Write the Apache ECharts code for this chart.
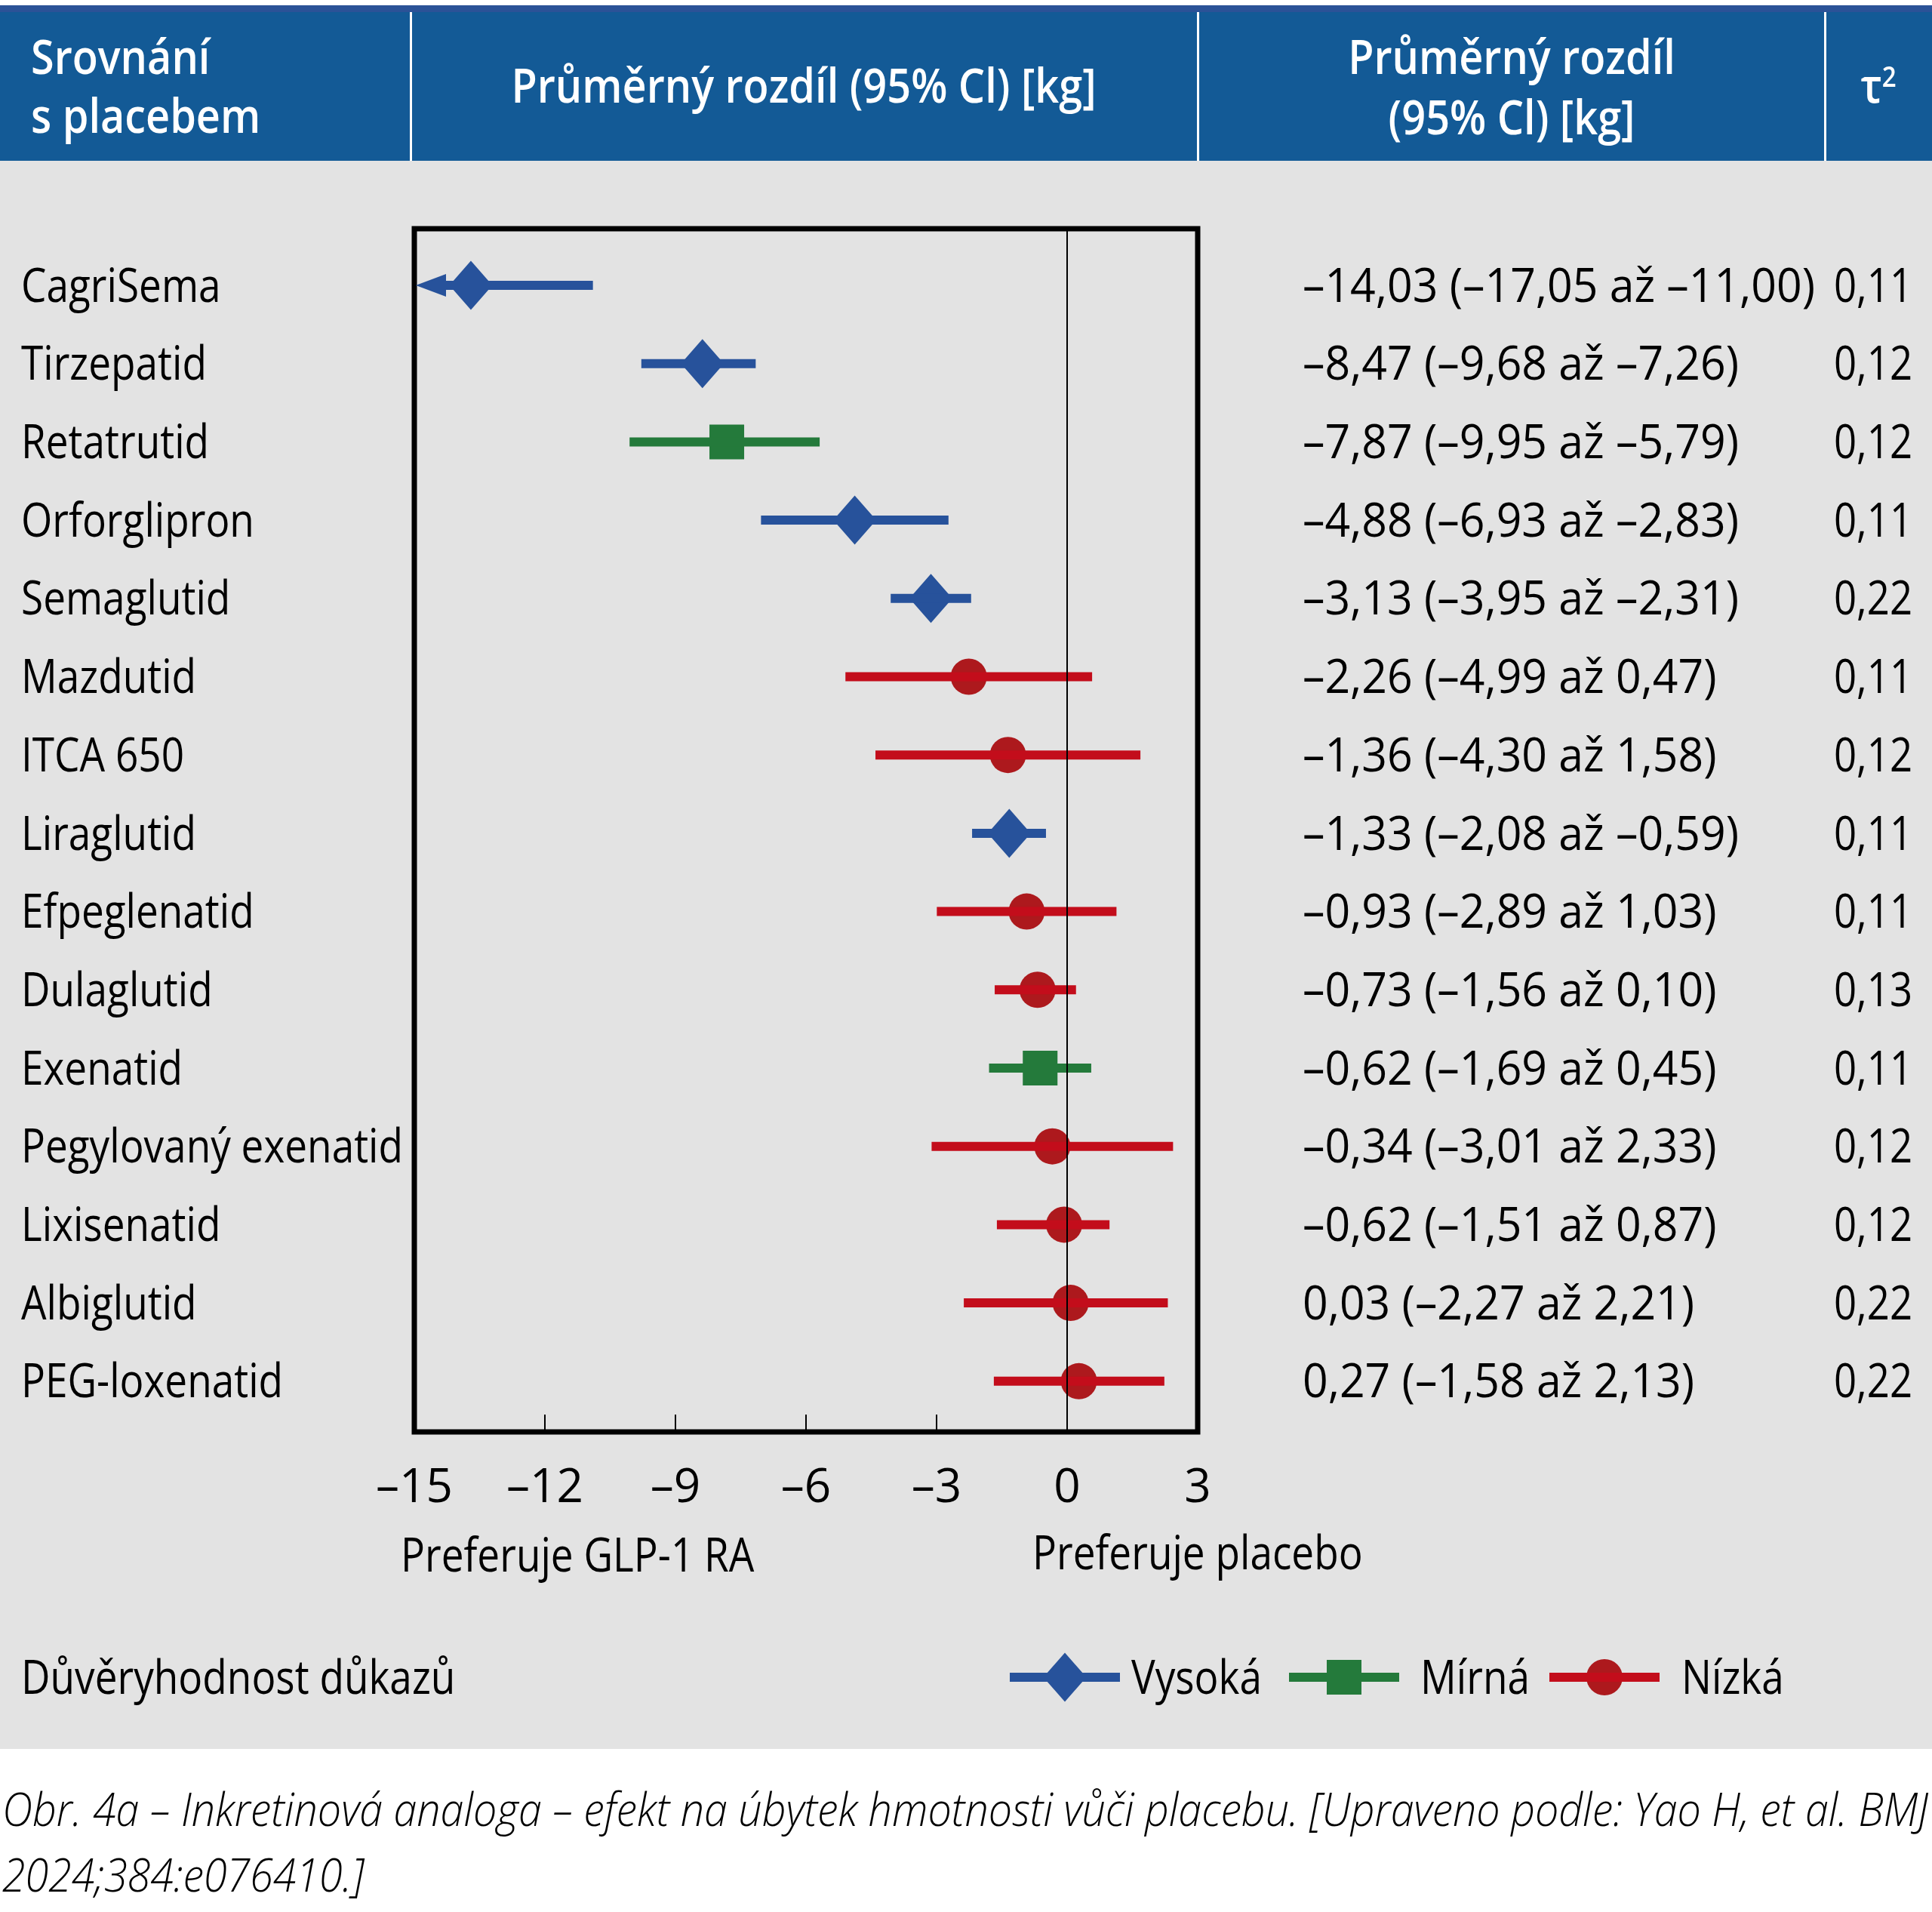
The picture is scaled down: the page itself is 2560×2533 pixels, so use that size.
<!DOCTYPE html>
<html>
<head>
<meta charset="utf-8">
<script src="https://cdn.jsdelivr.net/npm/echarts@6/dist/echarts.min.js"></script>
<style>
  html, body { margin: 0; padding: 0; background: #fff; }
  #chart { width: 2560px; height: 2533px; }
</style>
</head>
<body>
<div id="chart"></div>
<script>
// rows, top to bottom
const names = ['CagriSema', 'Tirzepatid', 'Retatrutid', 'Orforglipron', 'Semaglutid', 'Mazdutid',
  'ITCA 650', 'Liraglutid', 'Efpeglenatid', 'Dulaglutid', 'Exenatid', 'Pegylovaný exenatid',
  'Lixisenatid', 'Albiglutid', 'PEG-loxenatid'];
// marker positions as drawn in the figure
const means = [-13.7, -8.38, -7.82, -4.88, -3.13, -2.26, -1.36, -1.33, -0.93, -0.68, -0.62, -0.34, -0.07, 0.08, 0.27];
const lows = [-17.05, -9.68, -9.95, -6.93, -3.95, -4.99, -4.30, -2.08, -2.89, -1.56, -1.69, -3.01, -1.51, -2.27, -1.58];
const highs = [-11.00, -7.26, -5.79, -2.83, -2.31, 0.47, 1.58, -0.59, 1.03, 0.10, 0.45, 2.33, 0.87, 2.21, 2.13];
const levels = ['high', 'high', 'moderate', 'high', 'high', 'low', 'low', 'high', 'low', 'low',
  'moderate', 'low', 'low', 'low', 'low'];
const ciLabels = [
  '–14,03 (–17,05 až –11,00)', '–8,47 (–9,68 až –7,26)', '–7,87 (–9,95 až –5,79)',
  '–4,88 (–6,93 až –2,83)', '–3,13 (–3,95 až –2,31)', '–2,26 (–4,99 až 0,47)',
  '–1,36 (–4,30 až 1,58)', '–1,33 (–2,08 až –0,59)', '–0,93 (–2,89 až 1,03)',
  '–0,73 (–1,56 až 0,10)', '–0,62 (–1,69 až 0,45)', '–0,34 (–3,01 až 2,33)',
  '–0,62 (–1,51 až 0,87)', '0,03 (–2,27 až 2,21)', '0,27 (–1,58 až 2,13)'];
const tauLabels = ['0,11', '0,12', '0,12', '0,11', '0,22', '0,11', '0,12', '0,11', '0,11', '0,13',
  '0,11', '0,12', '0,12', '0,22', '0,22'];
const xMin = -15, xMax = 3, xStep = 3;
const legendLevels = ['high', 'moderate', 'low'];
const legendNames = ['Vysoká', 'Mírná', 'Nízká'];
const caption1 = 'Obr. 4a – Inkretinová analoga – efekt na úbytek hmotnosti vůči placebu. [Upraveno podle: Yao H, et al. BMJ';
const caption2 = '2024;384:e076410.]';

const FONT = "'Open Sans', 'DejaVu Sans Condensed', sans-serif";
const BLUE = '#27529b', GREEN = '#247a3b', RED = '#c30d1b', RED_DOT = '#ad191d';
const HEADER = '#135a96', TOPBAR = '#2b5297', BG = '#e3e3e3';
const colorOf = { high: BLUE, moderate: GREEN, low: RED };
const TEXT_DY = 4;

// the figure uses a condensed face; squeeze our text to the same widths
const ctx = document.createElement('canvas').getContext('2d');
function measure(s, size, weight, style) {
  ctx.font = (style || 'normal') + ' ' + (weight || 'normal') + ' ' + size + 'px ' + FONT;
  return ctx.measureText(s).width;
}
const bodyScale = 506 / measure('Pegylovaný exenatid', 62);
const numScale = 679 / measure(ciLabels[0], 62);
const tauScale = 104 / measure('0,11', 62);
const headScale = 775 / measure('Průměrný rozdíl (95% Cl) [kg]', 64, 600);
const capScale = 2552 / measure(caption1, 60, 300, 'italic');

const chart = echarts.init(document.getElementById('chart'), null, { renderer: 'canvas' });

function markerShape(lvl, cx, cy) {
  if (lvl === 'high') {
    return { type: 'polygon', shape: { points: [[cx, cy - 32.5], [cx + 28.5, cy], [cx, cy + 32.5], [cx - 28.5, cy]] },
      style: { fill: BLUE } };
  }
  if (lvl === 'moderate') {
    return { type: 'rect', shape: { x: cx - 23, y: cy - 23, width: 46, height: 46 }, style: { fill: GREEN } };
  }
  return { type: 'circle', shape: { cx: cx, cy: cy, r: 24 }, style: { fill: RED_DOT } };
}

function bodyText(s, x, y, scale) {
  return { type: 'text', x: x, y: y + TEXT_DY, scaleX: scale || bodyScale,
    style: { text: s, x: 0, y: 0, fill: '#000', fontSize: 62, fontFamily: FONT,
      align: 'left', verticalAlign: 'middle' } };
}

function renderItem(params, api) {
  const i = api.value(0);
  const m = api.value(1), lo = api.value(2), hi = api.value(3);
  const lvl = levels[i];
  const pt = api.coord([m, i]);
  const y = pt[1];
  const edge = api.coord([xMin, i])[0];
  const cut = lo < xMin;
  const x1 = cut ? edge + 40 : api.coord([lo, i])[0] - 6;
  const x2 = api.coord([hi, i])[0] + 6;
  const children = [markerShape(lvl, pt[0], y)];
  children.push({ type: 'rect', shape: { x: x1, y: y - 6, width: x2 - x1, height: 12 },
    style: { fill: colorOf[lvl] } });
  if (cut) {
    children.push({ type: 'polygon', shape: { points: [[edge + 2, y], [edge + 42, y - 15], [edge + 42, y + 15]] },
      style: { fill: colorOf[lvl] } });
  }
  children.push(bodyText(names[i], 28, y), bodyText(ciLabels[i], 1726, y, numScale),
    bodyText(tauLabels[i], 2430, y, tauScale));
  return { type: 'group', children: children };
}

const rows = names.map((n, i) => [i, means[i], lows[i], highs[i]]);

const headText = (s, x, y, align) => ({ type: 'text', x: x, y: y, scaleX: headScale,
  style: { text: s, x: 0, y: 0, fill: '#fff', fontSize: 64, fontWeight: 600, fontFamily: FONT,
    align: align, verticalAlign: 'middle' } });

const legendX = [1338, 1708, 2053];
const legendTextX = [1499, 1882, 2228];
const legendGraphics = [];
legendLevels.forEach((lvl, k) => {
  const x0 = legendX[k], cy = 2222;
  legendGraphics.push(markerShape(lvl, x0 + 73, cy));
  legendGraphics.push({ type: 'rect', shape: { x: x0, y: cy - 6, width: 146, height: 12 }, style: { fill: colorOf[lvl] } });
  legendGraphics.push(bodyText(legendNames[k], legendTextX[k], cy));
});

const capStyle = { fontStyle: 'italic', fontSize: 60, fontWeight: 300 };

const option = {
  animation: false,
  backgroundColor: '#fff',
  grid: { left: 549, top: 303, width: 1038, height: 1594, show: true, borderColor: '#000', borderWidth: 7,
    backgroundColor: 'transparent' },
  xAxis: {
    type: 'value', min: xMin, max: xMax, interval: xStep,
    axisLine: { show: false, onZero: false },
    axisTick: { show: true, inside: true, length: 23, lineStyle: { color: '#000', width: 2 } },
    splitLine: { show: false },
    axisLabel: { color: '#000', fontSize: 62, fontFamily: FONT, margin: 44,
      formatter: v => (v < 0 ? '\u2013' : '') + Math.abs(v) }
  },
  yAxis: { type: 'value', inverse: true, min: -0.723, max: 14.648, show: false },
  graphic: [
    { type: 'rect', z: -10, shape: { x: 0, y: 213, width: 2560, height: 2104 }, style: { fill: BG } },
    { type: 'rect', z: -10, shape: { x: 0, y: 7, width: 2560, height: 9 }, style: { fill: TOPBAR } },
    { type: 'rect', z: -10, shape: { x: 0, y: 16, width: 2560, height: 197 }, style: { fill: HEADER } },
    { type: 'rect', shape: { x: 543, y: 16, width: 3, height: 197 }, style: { fill: '#fff' } },
    { type: 'rect', shape: { x: 1586, y: 16, width: 3, height: 197 }, style: { fill: '#fff' } },
    { type: 'rect', shape: { x: 2417, y: 16, width: 3, height: 197 }, style: { fill: '#fff' } },
    headText('Srovnání', 41, 80, 'left'),
    headText('s placebem', 41, 158, 'left'),
    headText('Průměrný rozdíl (95% Cl) [kg]', 1065, 118, 'center'),
    headText('Průměrný rozdíl', 2003, 80, 'center'),
    headText('(95% Cl) [kg]', 2003, 160, 'center'),
    { type: 'text', x: 2489, y: 118, scaleX: headScale,
      style: { text: '{t|τ}{s|2}', x: 0, y: 0, fill: '#fff', align: 'center', verticalAlign: 'middle',
        rich: { t: { fontSize: 64, fontWeight: 600, fontFamily: FONT, fill: '#fff' },
          s: { fontSize: 38, fontWeight: 600, fontFamily: FONT, fill: '#fff', verticalAlign: 'top', padding: [0, 0, 28, 0] } } } },
    bodyText('Preferuje GLP-1 RA', 531, 2060),
    bodyText('Preferuje placebo', 1368, 2057),
    bodyText('Důvěryhodnost důkazů', 28, 2222),
    ...legendGraphics,
    { type: 'text', x: 3, y: 2398 + TEXT_DY, scaleX: capScale,
      style: Object.assign({ text: caption1, x: 0, y: 0, fill: '#000', fontFamily: FONT, verticalAlign: 'middle' }, capStyle) },
    { type: 'text', x: 3, y: 2485 + TEXT_DY, scaleX: capScale,
      style: Object.assign({ text: caption2, x: 0, y: 0, fill: '#000', fontFamily: FONT, verticalAlign: 'middle' }, capStyle) }
  ],
  series: [{
    type: 'custom',
    renderItem: renderItem,
    data: rows,
    encode: { x: [1, 2, 3], y: 0 },
    clip: false,
    markLine: { silent: true, symbol: 'none', label: { show: false },
      lineStyle: { color: '#000', width: 2, type: 'solid' }, data: [{ xAxis: 0 }] }
  }]
};
chart.setOption(option);
</script>
</body>
</html>
